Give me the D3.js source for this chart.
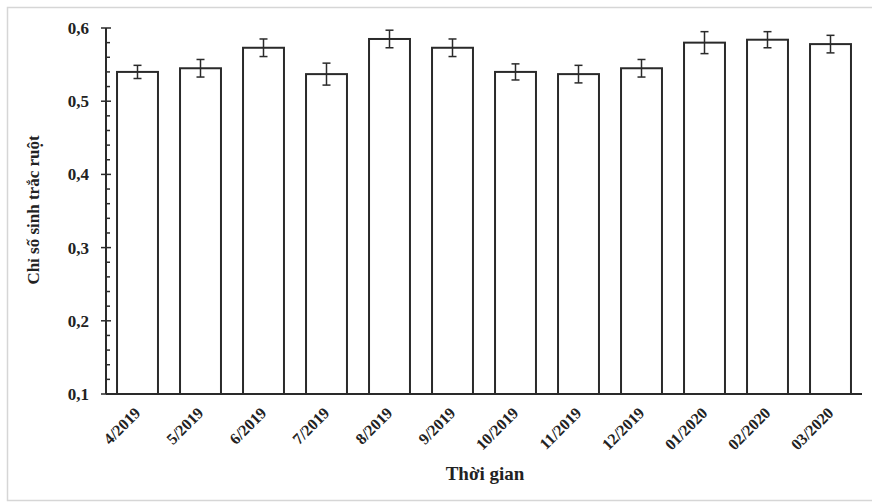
<!DOCTYPE html>
<html>
<head>
<meta charset="utf-8">
<script src="https://cdn.jsdelivr.net/npm/d3@7"></script>
<style>
  html, body { margin: 0; padding: 0; background: #fff; }
  svg { display: block; }
  text { font-family: "Liberation Serif", "Times New Roman", serif; font-weight: bold; fill: #222; }
</style>
</head>
<body>
<svg id="chart" width="872" height="502"></svg>
<script>
// Monthly biometric index with standard error
const months = ["4/2019", "5/2019", "6/2019", "7/2019", "8/2019", "9/2019",
                "10/2019", "11/2019", "12/2019", "01/2020", "02/2020", "03/2020"];
const means  = [0.540, 0.545, 0.573, 0.537, 0.585, 0.573,
                0.540, 0.537, 0.545, 0.580, 0.584, 0.578];
const errors = [0.009, 0.012, 0.012, 0.015, 0.012, 0.012,
                0.011, 0.012, 0.012, 0.015, 0.011, 0.012];
const yTicks = [0.1, 0.2, 0.3, 0.4, 0.5, 0.6];
const yTitle = "Chỉ số sinh trắc ruột";
const xTitle = "Thời gian";

const svg = d3.select("#chart");
const m = { left: 106, right: 10, top: 28, bottom: 108 };

// light frame around the figure
svg.append("rect")
  .attr("x", 7.5).attr("y", 7.5)
  .attr("width", 900).attr("height", 493)
  .attr("fill", "none").attr("stroke", "#d6d6d6").attr("stroke-width", 1.5);

const x = d3.scaleBand()
  .domain(months)
  .range([m.left, 862])
  .paddingInner(0.35)
  .paddingOuter(0.175);

const y = d3.scaleLinear()
  .domain([0.1, 0.6])
  .range([394, m.top]);

const data = months.map((k, i) => ({ k, v: means[i], e: errors[i] }));

// bars
svg.append("g").selectAll("rect")
  .data(data).join("rect")
  .attr("x", d => x(d.k))
  .attr("y", d => y(d.v))
  .attr("width", x.bandwidth())
  .attr("height", d => y(0.1) - y(d.v))
  .attr("fill", "#fff")
  .attr("stroke", "#2a2a2a")
  .attr("stroke-width", 2);

// error bars
const eb = svg.append("g").attr("stroke", "#2a2a2a").attr("stroke-width", 1.5);
data.forEach(d => {
  const cx = x(d.k) + x.bandwidth() / 2;
  eb.append("line").attr("x1", cx).attr("x2", cx)
    .attr("y1", y(d.v + d.e)).attr("y2", y(d.v - d.e));
  [d.v + d.e, d.v - d.e].forEach(t => {
    eb.append("line").attr("x1", cx - 4).attr("x2", cx + 4)
      .attr("y1", y(t)).attr("y2", y(t));
  });
});

// y axis: minor ticks every 0.02, major every 0.1
const minor = d3.range(0.12, 0.6, 0.02).filter(t => Math.abs(t * 10 - Math.round(t * 10)) > 1e-6);
const yAxisG = svg.append("g").attr("stroke", "#2a2a2a");
yAxisG.append("line")
  .attr("x1", m.left).attr("x2", m.left)
  .attr("y1", y(0.6)).attr("y2", y(0.1))
  .attr("stroke-width", 2);
yAxisG.selectAll(".mj").data(yTicks).join("line")
  .attr("x1", m.left - 5).attr("x2", m.left + 5)
  .attr("y1", d => y(d)).attr("y2", d => y(d))
  .attr("stroke-width", 1.5);
yAxisG.selectAll(".mn").data(minor).join("line")
  .attr("x1", m.left).attr("x2", m.left + 4)
  .attr("y1", d => y(d)).attr("y2", d => y(d))
  .attr("stroke-width", 1.5);

svg.append("g").selectAll("text")
  .data(yTicks).join("text")
  .attr("x", 89).attr("y", d => y(d) + 6)
  .attr("text-anchor", "end")
  .attr("font-size", 17)
  .text(d => d3.format(".1f")(d).replace(".", ","));

// x axis
svg.append("line")
  .attr("x1", m.left).attr("x2", 862)
  .attr("y1", y(0.1)).attr("y2", y(0.1))
  .attr("stroke", "#2a2a2a").attr("stroke-width", 2);

svg.append("g").selectAll("text")
  .data(months).join("text")
  .attr("transform", d => `translate(${x(d) + x.bandwidth() / 2 + 4},${y(0.1) + 20}) rotate(-45)`)
  .attr("text-anchor", "end")
  .attr("font-size", 16)
  .text(d => d);

// titles
svg.append("text")
  .attr("x", 485).attr("y", 480)
  .attr("text-anchor", "middle")
  .attr("font-size", 19)
  .text(xTitle);

svg.append("text")
  .attr("transform", `translate(39,210) rotate(-90)`)
  .attr("text-anchor", "middle")
  .attr("font-size", 17)
  .text(yTitle);
</script>
</body>
</html>
